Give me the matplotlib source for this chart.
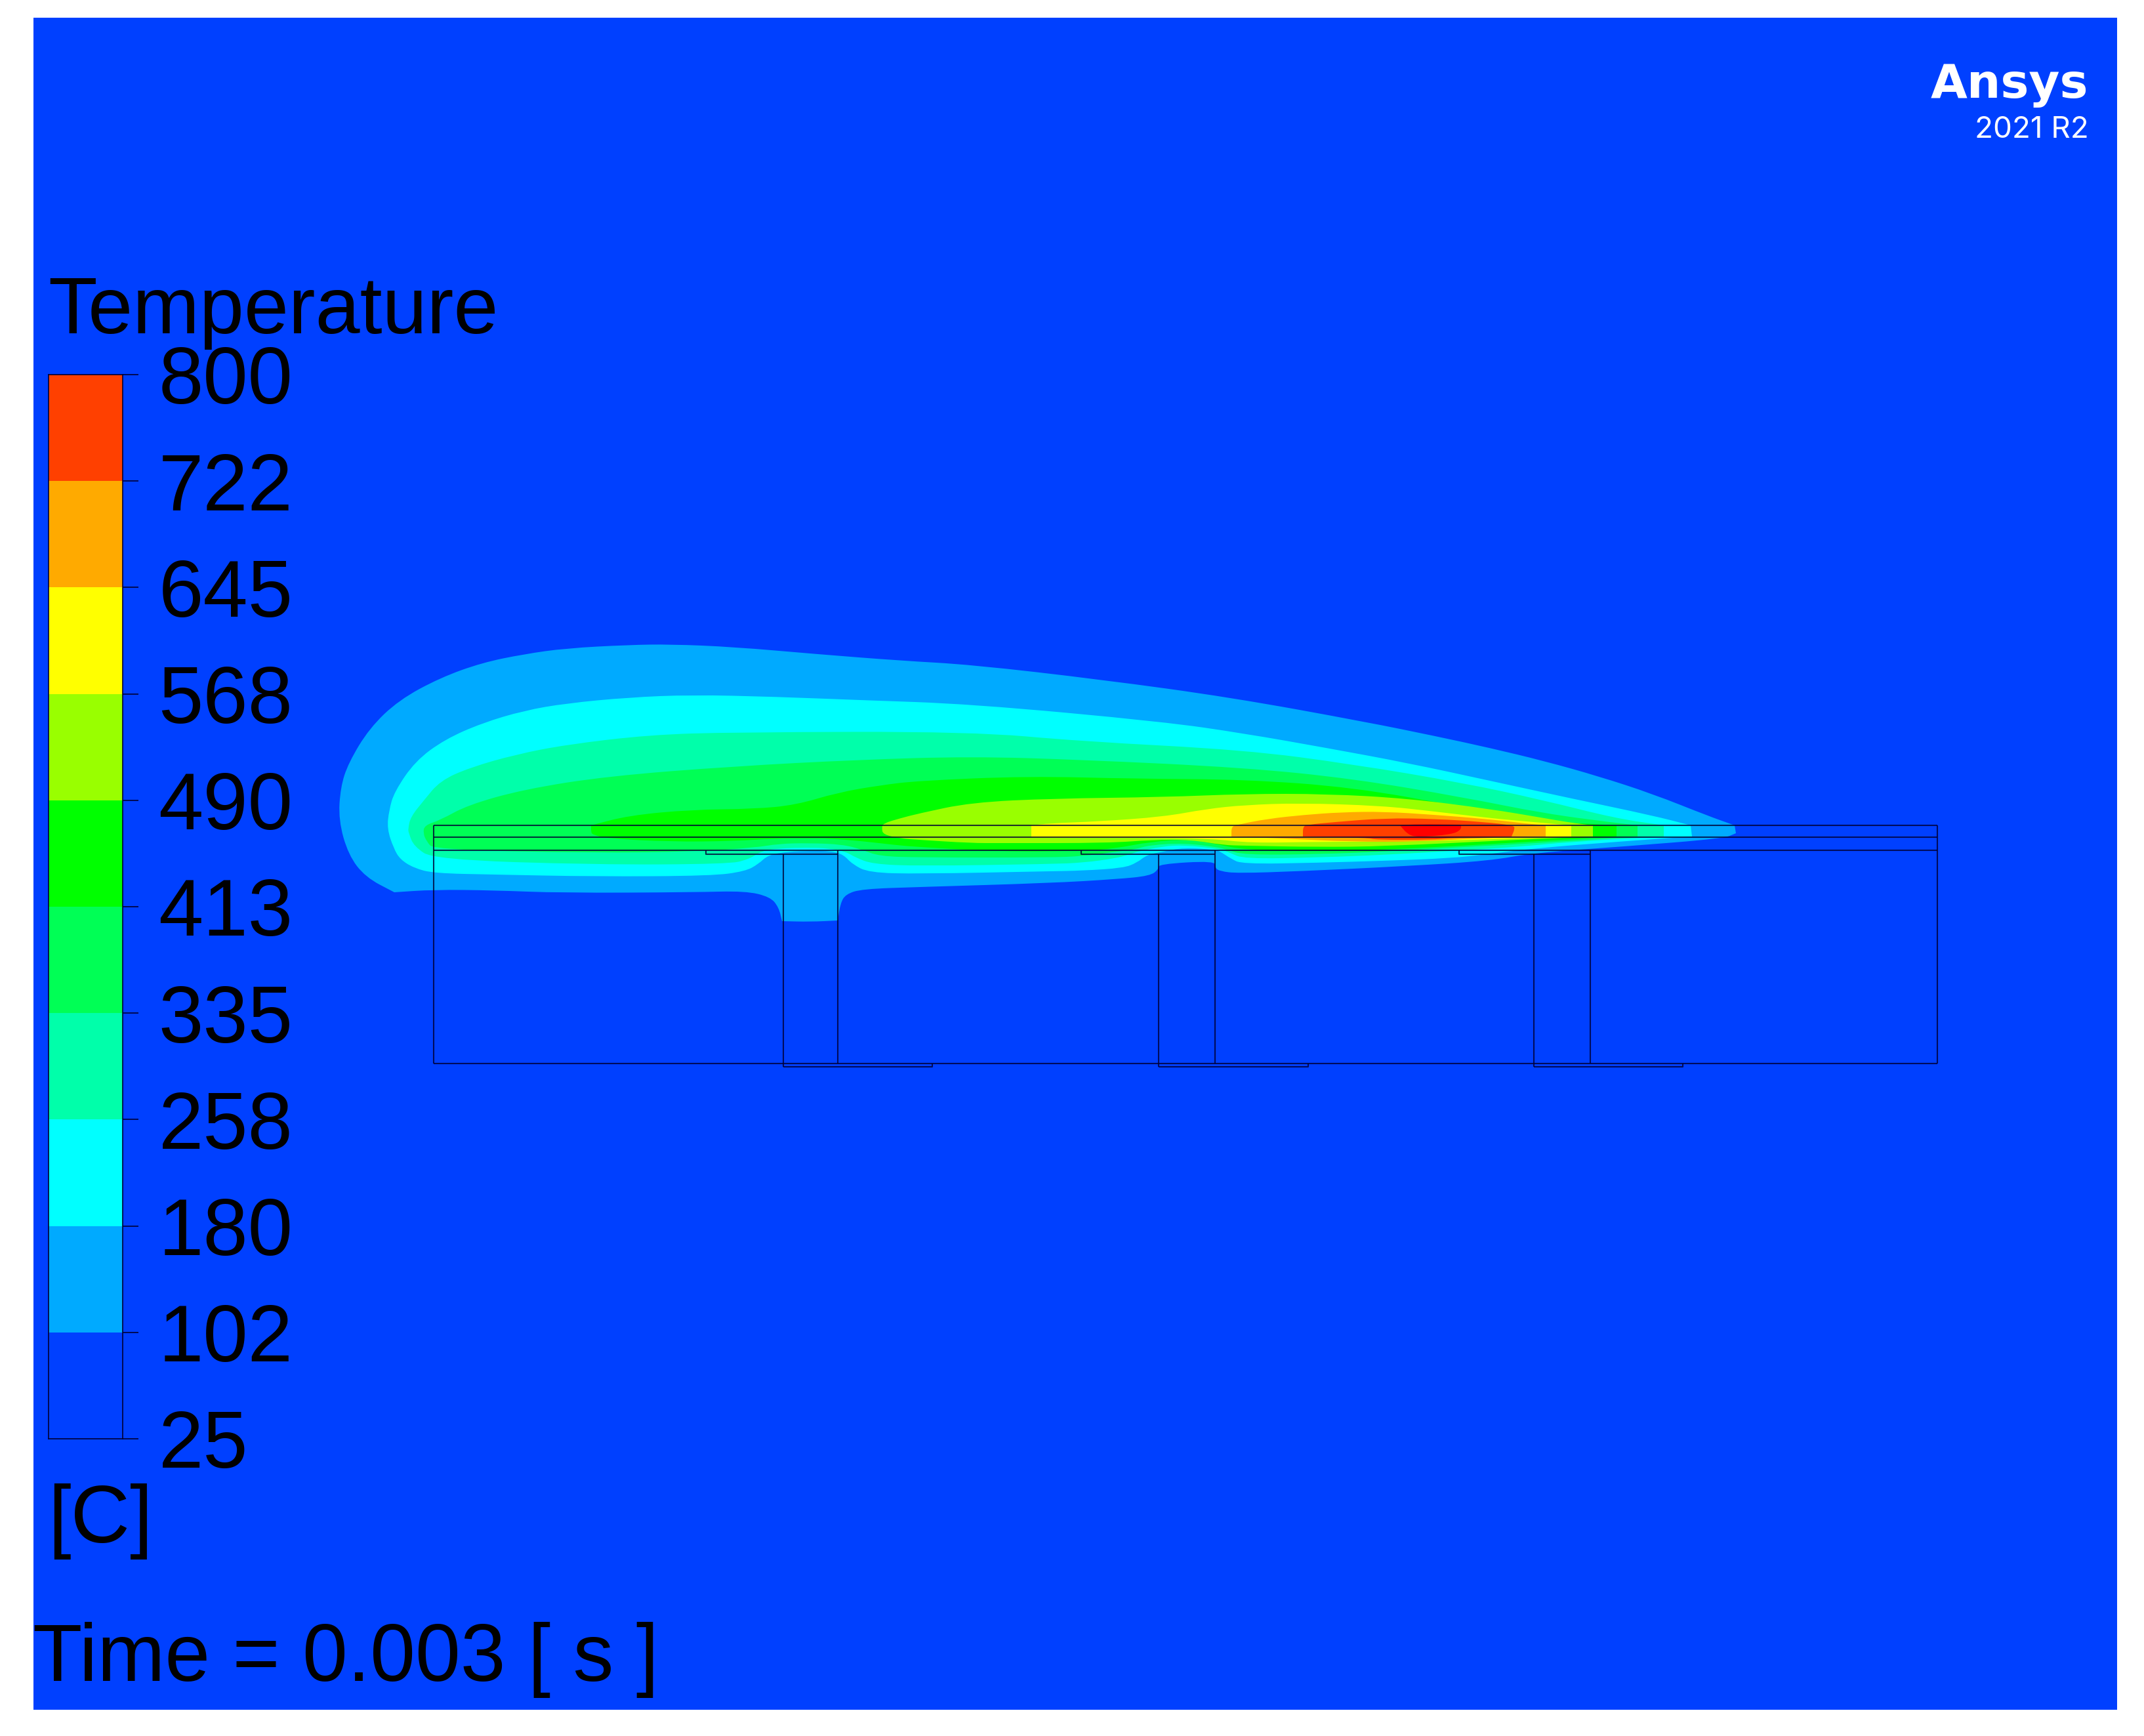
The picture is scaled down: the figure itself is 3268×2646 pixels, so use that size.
import matplotlib
matplotlib.use('Agg')
import matplotlib.pyplot as plt
from matplotlib.path import Path
from matplotlib.patches import PathPatch

W, H = 3268, 2646
plt.rcParams['font.family'] = ['Liberation Sans', 'DejaVu Sans']

# legend
levels = ['25', '102', '180', '258', '335', '413', '490', '568', '645', '722', '800']
colors = ['#0040FF', '#00AAFF', '#00FFFF', '#00FFAA', '#00FF55', '#00FF00',
          '#99FF00', '#FFFF00', '#FFAA00', '#FF4000']
peak_color = '#FF0000'

# temperature bands, outer to inner (image pixels)
# a point listed twice is a sharp corner
band_102 = [(516, 1250), (519, 1200), (531, 1163), (563, 1110), (608, 1067), (671, 1033), (735, 1010),
            (799, 997), (863, 988), (958, 983), (1022, 982), (1118, 986), (1245, 997), (1373, 1007),
            (1480, 1013), (1680, 1036), (1876, 1063), (2080, 1100), (2188, 1122), (2271, 1140), (2354, 1160),
            (2436, 1183), (2519, 1210), (2602, 1243), (2644, 1258), (2644, 1258), (2646, 1270), (2646, 1270),
            (2627, 1278), (2478, 1290),
            (2337, 1300), (2271, 1312), (2146, 1320), (1980, 1328), (1886, 1331), (1860, 1328), (1852, 1323),
            (1852, 1312), (1766, 1317), (1766, 1325), (1753, 1335), (1702, 1340), (1600, 1346), (1400, 1352),
            (1314, 1355), (1289, 1363), (1281, 1377), (1277, 1403), (1277, 1403), (1235, 1405), (1192, 1404),
            (1192, 1404), (1187, 1383),
            (1174, 1367), (1136, 1358), (1059, 1360), (855, 1361), (753, 1357), (661, 1356), (601, 1360),
            (601, 1360), (557, 1337), (531, 1303)]
band_180 = [(590, 1263), (593, 1235), (601, 1207), (633, 1160), (678, 1127), (735, 1102), (799, 1083),
            (863, 1072), (958, 1063), (1054, 1059), (1181, 1062), (1309, 1067), (1480, 1073), (1773, 1100),
            (1897, 1118), (2022, 1140), (2146, 1163), (2271, 1190), (2395, 1217), (2519, 1243), (2577, 1258),
            (2577, 1258), (2579, 1275), (2579, 1275), (2478, 1282), (2337, 1293), (2268, 1302), (2212, 1308),
            (2110, 1312), (2008, 1315),
            (1893, 1317), (1875, 1308), (1860, 1298), (1852, 1295), (1804, 1292), (1773, 1298), (1748, 1303),
            (1733, 1315), (1712, 1323), (1651, 1327), (1600, 1328), (1400, 1332), (1324, 1330), (1299, 1317),
            (1286, 1303), (1268, 1297), (1233, 1297), (1202, 1298), (1171, 1303), (1156, 1317), (1136, 1328),
            (1085, 1335), (906, 1336), (753, 1333), (661, 1331), (631, 1323), (610, 1310), (600, 1293)]
band_258 = [(622, 1263), (626, 1245), (646, 1220), (671, 1190), (716, 1170), (786, 1150), (863, 1135),
            (990, 1120), (1118, 1116), (1480, 1115), (1649, 1130), (1897, 1143), (2063, 1165), (2229, 1193),
            (2354, 1220), (2461, 1247), (2536, 1258), (2536, 1258), (2536, 1275), (2536, 1275), (2395, 1283),
            (2312, 1291), (2229, 1296),
            (2110, 1303), (2008, 1307), (1896, 1309), (1875, 1300), (1860, 1294), (1804, 1288), (1773, 1290),
            (1738, 1297), (1722, 1302), (1702, 1308), (1651, 1315), (1600, 1317), (1400, 1320), (1330, 1317),
            (1304, 1307), (1289, 1298), (1263, 1293), (1233, 1292), (1187, 1293), (1161, 1297), (1141, 1310),
            (1110, 1317), (906, 1318), (661, 1310), (631, 1290), (623, 1270)]
band_335 = [(647, 1258), (671, 1250), (713, 1227), (799, 1203), (926, 1183), (1118, 1168), (1309, 1158),
            (1480, 1153), (1649, 1158), (1897, 1170), (2063, 1187), (2229, 1215), (2354, 1240), (2461, 1254),
            (2496, 1258), (2496, 1258), (2496, 1275), (2496, 1275), (2312, 1287), (2229, 1291), (2110, 1298),
            (2008, 1302), (1896, 1303),
            (1870, 1295), (1855, 1291), (1804, 1285), (1753, 1288), (1728, 1295), (1702, 1298), (1651, 1305),
            (1600, 1307), (1400, 1307), (1340, 1305), (1314, 1295), (1284, 1287), (1233, 1285), (1187, 1286),
            (1151, 1292), (1059, 1298), (906, 1300), (661, 1295), (650, 1282), (645, 1270)]
band_413 = [(901, 1258), (901, 1258), (958, 1243), (1054, 1234), (1150, 1233), (1213, 1227), (1277, 1208),
            (1341, 1197), (1400, 1190), (1566, 1183), (1732, 1187), (1897, 1188), (2063, 1200), (2229, 1230),
            (2354, 1252), (2428, 1256), (2464, 1258), (2464, 1258), (2464, 1275), (2464, 1275), (2312, 1284),
            (2229, 1289), (2110, 1295),
            (2008, 1298), (1896, 1295), (1855, 1287), (1814, 1279), (1753, 1283), (1702, 1293), (1651, 1297),
            (1524, 1298), (1400, 1291), (1365, 1288), (1314, 1282), (1263, 1278), (1233, 1278), (1181, 1278),
            (1118, 1282), (1022, 1283), (926, 1278), (903, 1272), (901, 1268)]
band_490 = [(1344, 1262), (1346, 1255), (1373, 1247), (1400, 1240), (1480, 1223), (1607, 1217), (1773, 1215),
            (1897, 1210), (2022, 1210), (2146, 1217), (2271, 1233), (2354, 1247), (2395, 1254), (2428, 1258),
            (2428, 1258), (2428, 1275), (2428, 1275),
            (2312, 1280), (2110, 1290), (2008, 1291), (1896, 1289), (1864, 1288), (1815, 1280), (1757, 1280),
            (1690, 1285), (1524, 1285), (1480, 1285), (1400, 1280), (1373, 1278), (1346, 1272)]
band_568 = [(1572, 1258), (1572, 1258), (1599, 1255), (1674, 1252), (1773, 1245), (1839, 1233), (1897, 1227),
            (1980, 1224),
            (2105, 1228), (2188, 1237), (2271, 1247), (2337, 1253), (2395, 1258), (2395, 1258), (2395, 1275),
            (2395, 1275), (2312, 1278),
            (2146, 1283), (2008, 1283), (1906, 1285), (1845, 1278), (1732, 1277), (1607, 1277), (1572, 1276),
            (1572, 1276)]
band_645 = [(1877, 1275), (1877, 1275), (1877, 1260), (1886, 1257), (1932, 1248), (1988, 1242), (2044, 1238),
            (2110, 1237), (2187, 1242),
            (2263, 1248), (2324, 1255), (2356, 1258), (2356, 1258), (2356, 1275), (2356, 1275), (2263, 1277),
            (2161, 1283), (2059, 1283), (1957, 1278)]
band_722 = [(1986, 1275), (1986, 1275), (1986, 1260), (1993, 1257), (2034, 1253), (2110, 1247), (2187, 1248),
            (2263, 1253), (2307, 1258), (2309, 1263), (2304, 1275), (2304, 1275), (2212, 1277), (2182, 1280),
            (2097, 1280), (2085, 1277)]
band_peak = [(2134, 1258), (2134, 1258), (2161, 1256), (2227, 1257), (2227, 1257), (2227, 1265), (2212, 1272),
             (2161, 1276), (2146, 1272)]

# solid outlines
plate_x = [661, 2953]
plate_y = [1258, 1276, 1296, 1621]
post_left = [1194, 1766, 2338]
post_right = [1277, 1852, 2424]
foot_right = [1421, 1994, 2565]
pad_left = [1076, 1648, 2224]
pad_y = 1302
foot_y = 1626

line_kw = dict(color='#000033', lw=1.5, alpha=0.8, solid_capstyle='butt')


def band_patch(points, color):
    # read points are the control points of a closed quadratic curve
    n = len(points)
    mid = [((points[i][0] + points[(i + 1) % n][0]) / 2, (points[i][1] + points[(i + 1) % n][1]) / 2)
           for i in range(n)]
    verts = [mid[-1]]
    codes = [Path.MOVETO]
    for i in range(n):
        verts += [points[i], mid[i]]
        codes += [Path.CURVE3, Path.CURVE3]
    return PathPatch(Path(verts, codes), facecolor=color, edgecolor='none', lw=0)


fig = plt.figure(figsize=(W / 100, H / 100), dpi=100, facecolor='white')

ax = fig.add_axes([51 / W, 1 - 2606 / H, (3227 - 51) / W, (2606 - 27) / H])
ax.set_facecolor(colors[0])
ax.set_xlim(51, 3227)
ax.set_ylim(2606, 27)
ax.set_xticks([])
ax.set_yticks([])
for s in ax.spines.values():
    s.set_visible(False)

bands = [band_102, band_180, band_258, band_335, band_413, band_490, band_568, band_645, band_722]
for i, band in enumerate(bands):
    ax.add_patch(band_patch(band, colors[i + 1]))
ax.add_patch(band_patch(band_peak, peak_color))

# geometry
for y in plate_y:
    ax.plot(plate_x, [y, y], **line_kw)
for x in plate_x:
    ax.plot([x, x], [plate_y[0], plate_y[-1]], **line_kw)
for i in range(3):
    ax.plot([post_left[i], post_left[i]], [pad_y, foot_y], **line_kw)
    ax.plot([post_right[i], post_right[i]], [plate_y[2], plate_y[3]], **line_kw)
    ax.plot([pad_left[i], pad_left[i], post_right[i]], [plate_y[2], pad_y, pad_y], **line_kw)
    ax.plot([post_left[i], foot_right[i], foot_right[i]], [foot_y, foot_y, plate_y[3]], **line_kw)

# text
ax.text(73, 508, 'Temperature', fontsize=88, color='black', va='baseline')
ax.text(73, 2351, '[C]', fontsize=90, color='black', va='baseline')
ax.text(50, 2562, 'Time = 0.003 [ s ]', fontsize=89, color='black', va='baseline')
ax.text(3183, 149, 'Ansys', fontsize=52, color='white', weight='bold', ha='right', va='baseline',
        family=['DejaVu Sans'])
ax.text(3184, 210, '2021 R2', fontsize=33, color='white', ha='right', va='baseline',
        family=['Inter', 'DejaVu Sans'])

# colour legend
cax = fig.add_axes([74 / W, 1 - 2193 / H, (187 - 74) / W, (2193 - 571) / H])
cax.bar([0] * 10, [1] * 10, bottom=range(10), width=1, color=colors, lw=0)
cax.set_xlim(-0.5, 0.5)
cax.set_ylim(0, 10)
cax.set_xticks([])
cax.yaxis.tick_right()
cax.set_yticks(range(11))
cax.set_yticklabels(levels, fontsize=88.5, color='black', ha='left', va='center_baseline')
cax.tick_params(axis='y', length=17.3, width=1.2, color='#000033', pad=22)
for s in cax.spines.values():
    s.set_color('#000033')
    s.set_linewidth(1.2)

fig.savefig('out.png', dpi=100, facecolor='white')
